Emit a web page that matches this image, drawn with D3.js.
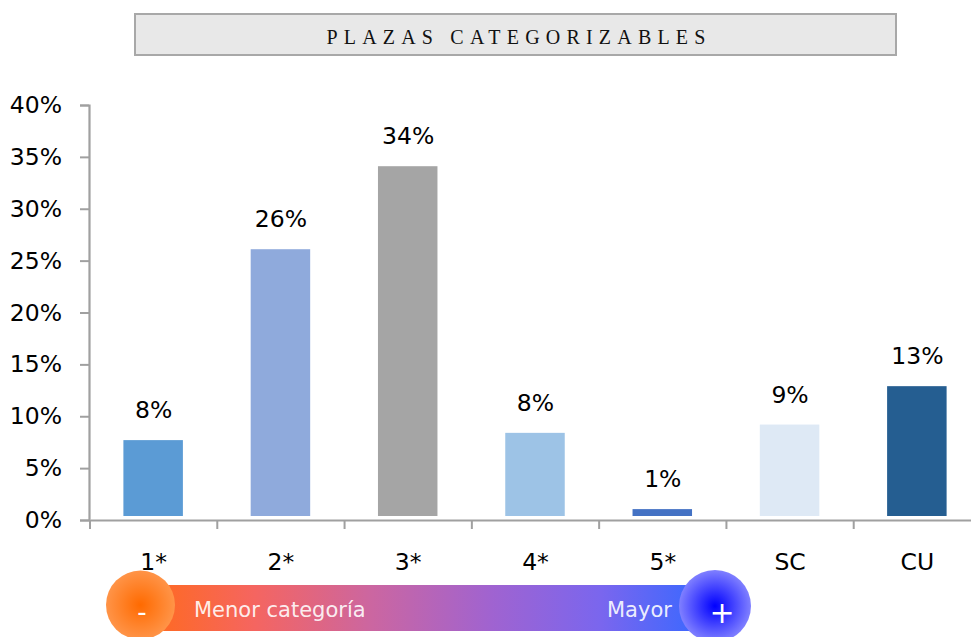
<!DOCTYPE html>
<html>
<head>
<meta charset="utf-8">
<script src="https://cdn.jsdelivr.net/npm/d3@7"></script>
<style>
html,body{margin:0;padding:0;background:#fff;overflow:hidden}
svg{display:block}
text{font-family:"DejaVu Sans",sans-serif}
</style>
</head>
<body>
<svg id="chart" width="971" height="637"></svg>
<script>
const categories=['1*','2*','3*','4*','5*','SC','CU'];
const values=[7.7,26.1,34.1,8.4,1.05,9.2,12.9];
const valueLabels=['8%','26%','34%','8%','1%','9%','13%'];
const colors=['#5b9bd5','#8faadc','#a5a5a5','#9dc3e6','#4472c4','#dee9f5','#255e91'];
const yTicks=[0,5,10,15,20,25,30,35,40];

const svg=d3.select('#chart');
const x=d3.scaleBand().domain(categories).range([90,981]);
const y=d3.scaleLinear().domain([0,40]).range([520,105]);
const barWidth=59.5, barGap=4, axisColor='#a0a0a0', labelSize='23.5px';

// title box
svg.append('rect').attr('x',135).attr('y',14).attr('width',761).attr('height',41)
    .attr('fill','#e8e8e8').attr('stroke','#a8a8a8').attr('stroke-width',2);
svg.append('text').attr('x',519).attr('y',44)
    .attr('text-anchor','middle')
    .style('font-family','"Liberation Serif",serif').style('font-size','20px').style('letter-spacing','6.2px')
    .attr('fill','#111').text('PLAZAS CATEGORIZABLES');

// bars stop a little above the axis line, as in the original
svg.append('g').selectAll('rect').data(categories).join('rect')
    .attr('x',d=>x(d)+x.bandwidth()/2-barWidth/2-0.5)
    .attr('width',barWidth)
    .attr('y',(d,i)=>y(values[i]))
    .attr('height',(d,i)=>y(0)-barGap-y(values[i]))
    .attr('fill',(d,i)=>colors[i]);

svg.append('g').selectAll('text').data(categories).join('text')
    .attr('x',d=>x(d)+x.bandwidth()/2)
    .attr('y',(d,i)=>y(values[i])-22)
    .attr('text-anchor','middle')
    .style('font-size',labelSize).attr('fill','#000')
    .text((d,i)=>valueLabels[i]);

// axes
const yAxis=d3.axisLeft(y).tickValues(yTicks).tickFormat(d=>d+'%').tickSize(9).tickPadding(18);
const gy=svg.append('g').attr('transform','translate(89,0)').call(yAxis);
const xAxis=d3.axisBottom(x).tickSize(0).tickPadding(33);
const gx=svg.append('g').attr('transform','translate(0,520)').call(xAxis);

[gy,gx].forEach(g=>{
    g.attr('font-family',null).attr('font-size',null);
    g.select('.domain').attr('stroke',axisColor).attr('stroke-width',2.2);
    g.selectAll('.tick line').attr('stroke',axisColor).attr('stroke-width',2);
    g.selectAll('.tick text').style('font-size',labelSize).attr('fill','#000');
});

// x ticks sit between the categories
gx.selectAll('line.sep').data(categories).join('line').attr('class','sep')
    .attr('x1',d=>x(d)).attr('x2',d=>x(d))
    .attr('y1',0).attr('y2',9)
    .attr('stroke',axisColor).attr('stroke-width',2);

// scale legend under the axis
const defs=svg.append('defs');
const grad=defs.append('linearGradient').attr('id','scaleGrad');
grad.append('stop').attr('offset','0%').attr('stop-color','#ff6a1f');
grad.append('stop').attr('offset','19%').attr('stop-color','#f56560');
grad.append('stop').attr('offset','40%').attr('stop-color','#cc66a0');
grad.append('stop').attr('offset','62%').attr('stop-color','#a063d0');
grad.append('stop').attr('offset','82%').attr('stop-color','#7a66ee');
grad.append('stop').attr('offset','100%').attr('stop-color','#3a68ff');

const minusGrad=defs.append('radialGradient').attr('id','minusGrad');
minusGrad.append('stop').attr('offset','0%').attr('stop-color','#ff6a00');
minusGrad.append('stop').attr('offset','100%').attr('stop-color','#ff9448');
const plusGrad=defs.append('radialGradient').attr('id','plusGrad');
plusGrad.append('stop').attr('offset','0%').attr('stop-color','#0000ff');
plusGrad.append('stop').attr('offset','100%').attr('stop-color','#8080ff');

svg.append('rect').attr('x',150).attr('y',585).attr('width',550).attr('height',46).attr('fill','url(#scaleGrad)');
svg.append('circle').attr('cx',140.5).attr('cy',605).attr('r',34.5).attr('fill','url(#minusGrad)');
svg.append('circle').attr('cx',715).attr('cy',606).attr('r',36).attr('fill','url(#plusGrad)');

svg.append('text').attr('x',194).attr('y',617).style('font-size','21px').attr('fill','#fff').attr('fill-opacity',.9).text('Menor categoría');
svg.append('text').attr('x',607).attr('y',617).style('font-size','21px').attr('fill','#fff').attr('fill-opacity',.9).text('Mayor');
svg.append('text').attr('x',142).attr('y',621).attr('text-anchor','middle').style('font-size','26px').attr('fill','#fff').text('-');
svg.append('text').attr('x',722).attr('y',623).attr('text-anchor','middle').style('font-size','30px').attr('fill','#fff').text('+');
</script>
</body>
</html>
